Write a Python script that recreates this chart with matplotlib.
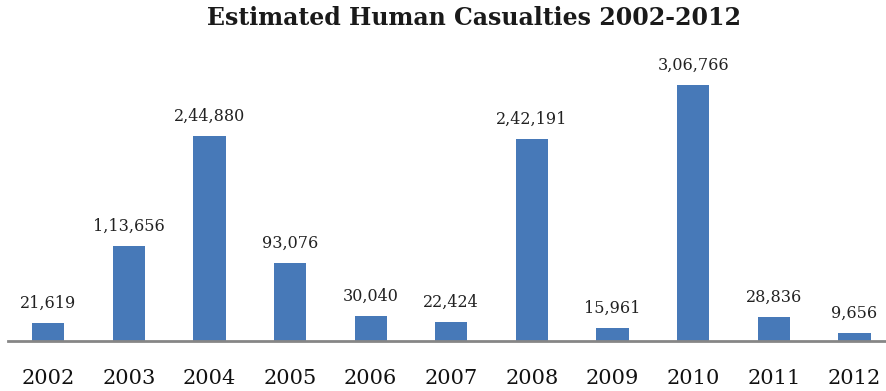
import matplotlib
matplotlib.use('Agg')
import matplotlib.pyplot as plt

# estimated human casualties per year
years = ['2002', '2003', '2004', '2005', '2006', '2007', '2008', '2009', '2010', '2011', '2012']
casualties = [21619, 113656, 244880, 93076, 30040, 22424, 242191, 15961, 306766, 28836, 9656]
valueLabels = ['21,619', '1,13,656', '2,44,880', '93,076', '30,040', '22,424',
               '2,42,191', '15,961', '3,06,766', '28,836', '9,656']

fig = plt.figure(figsize=(8.87, 3.91), dpi=100)
ax = fig.add_axes([0.0088, 0.1279, 1.0, 0.72])

x = range(len(years))
bars = ax.bar(x, casualties, width=0.4, color='#4779B8', zorder=2)

for xi, val, lab in zip(x, casualties, valueLabels):
    ax.annotate(lab, (xi, val), xytext=(0, 8), textcoords='offset points',
                ha='center', va='bottom', fontsize=11.5, family='DejaVu Serif', color='#222222')

ax.set_xlim(-0.5, 10.5)
ax.set_ylim(0, 337000)
ax.set_xticks(list(x))
ax.set_xticklabels(years, fontsize=15, family='DejaVu Serif', color='#111111')
ax.tick_params(axis='x', length=0, pad=20)
ax.set_yticks([])
for s in ['top', 'right', 'left']:
    ax.spines[s].set_visible(False)
ax.spines['bottom'].set_color('#868686')
ax.spines['bottom'].set_linewidth(2)

fig.text(0.534, 0.953, 'Estimated Human Casualties 2002-2012', ha='center', va='center',
         fontsize=17, fontweight='bold', family='DejaVu Serif', color='#1a1a1a')

fig.savefig('out.png', dpi=100)
